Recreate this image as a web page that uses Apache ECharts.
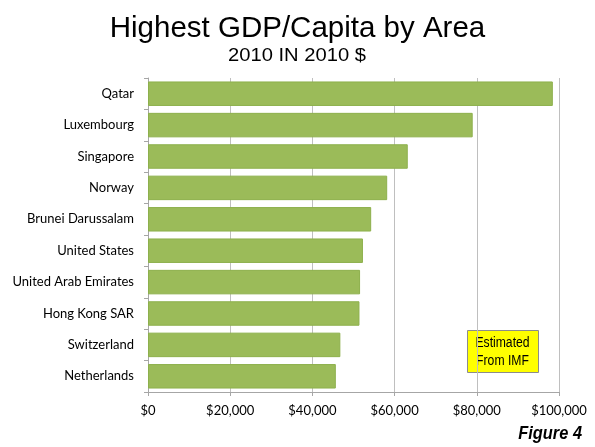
<!DOCTYPE html>
<html><head><meta charset="utf-8">
<script src="https://cdn.jsdelivr.net/npm/echarts@6/dist/echarts.min.js"></script>
<style>html,body{margin:0;padding:0;background:#fff}#c{width:595px;height:447px}</style>
</head><body><div id="c"></div>
<script>
const categories = ["Qatar","Luxembourg","Singapore","Norway","Brunei Darussalam","United States","United Arab Emirates","Hong Kong SAR","Switzerland","Netherlands"];
const gdpValues = [98500, 79000, 63200, 58200, 54300, 52300, 51600, 51450, 46800, 45700];
const xTicks = [0, 20000, 40000, 60000, 80000, 100000];
const titleText = "Highest GDP/Capita by Area";
const subtitleText = "2010 IN 2010 $";
const noteLines = ["Estimated", "From IMF"];
const figureText = "Figure 4";

const chart = echarts.init(document.getElementById('c'));
chart.setOption({
  animation: false,
  backgroundColor: '#fff',
  title: [
    {text: titleText, left: 'center', top: 8.5, textStyle: {fontFamily: 'Liberation Sans', fontSize: 29.5, fontWeight: 'normal', color: '#000'}}
  ],
  grid: {left: 148, right: 36, top: 78, bottom: 55, containLabel: false},
  xAxis: {
    type: 'value', min: xTicks[0], max: xTicks[xTicks.length-1], interval: 20000,
    axisLine: {show: true, lineStyle: {color: '#A6A6A6'}},
    axisTick: {show: true, length: 4, lineStyle: {color: '#A6A6A6'}},
    splitLine: {show: true, lineStyle: {color: '#BFBFBF', width: 1}},
    axisLabel: {margin: 12, fontFamily: 'Lato', fontSize: 13, color: '#000',
      formatter: v => '$' + v.toLocaleString('en-US')}
  },
  yAxis: {
    type: 'category', data: categories, inverse: true,
    axisLine: {show: true, lineStyle: {color: '#A6A6A6'}},
    axisTick: {show: true, length: 4, inside: false, lineStyle: {color: '#A6A6A6'}},
    axisLabel: {margin: 14, fontFamily: 'Lato', fontSize: 13, color: '#000'}
  },
  series: [{
    type: 'bar', data: gdpValues, barCategoryGap: '22%',
    itemStyle: {color: '#9BBB59', borderColor: '#8DB04C', borderWidth: 1}
  }],
  graphic: [
    {type: 'group', x: 297, y: 56.5, children: [
      {type: 'text', x: 0, y: 0, scaleX: 1.12, style: {text: subtitleText, fontFamily: 'Liberation Sans', fontSize: 18, fill: '#000', align: 'center', verticalAlign: 'middle'}}
    ]},
    {type: 'rect', left: 467, top: 330, shape: {width: 71, height: 42}, style: {fill: '#FFFF00', stroke: '#8C8C8C', lineWidth: 1}},
    {type: 'group', x: 502.5, y: 343.5, children: [
      {type: 'text', x: 0, y: 0, scaleX: 0.87, style: {text: noteLines[0], fontFamily: 'Liberation Sans', fontSize: 14, fill: '#000', align: 'center', verticalAlign: 'middle'}}
    ]},
    {type: 'group', x: 502.5, y: 361, children: [
      {type: 'text', x: 0, y: 0, scaleX: 0.87, style: {text: noteLines[1], fontFamily: 'Liberation Sans', fontSize: 14, fill: '#000', align: 'center', verticalAlign: 'middle'}}
    ]},
    {type: 'group', x: 582, y: 434, children: [
      {type: 'text', x: 0, y: 0, scaleX: 0.91, style: {text: figureText, fontFamily: 'Liberation Sans', fontSize: 18, fontWeight: 'bold', fontStyle: 'italic', fill: '#000', align: 'right', verticalAlign: 'middle'}}
    ]}
  ]
});
</script></body></html>
